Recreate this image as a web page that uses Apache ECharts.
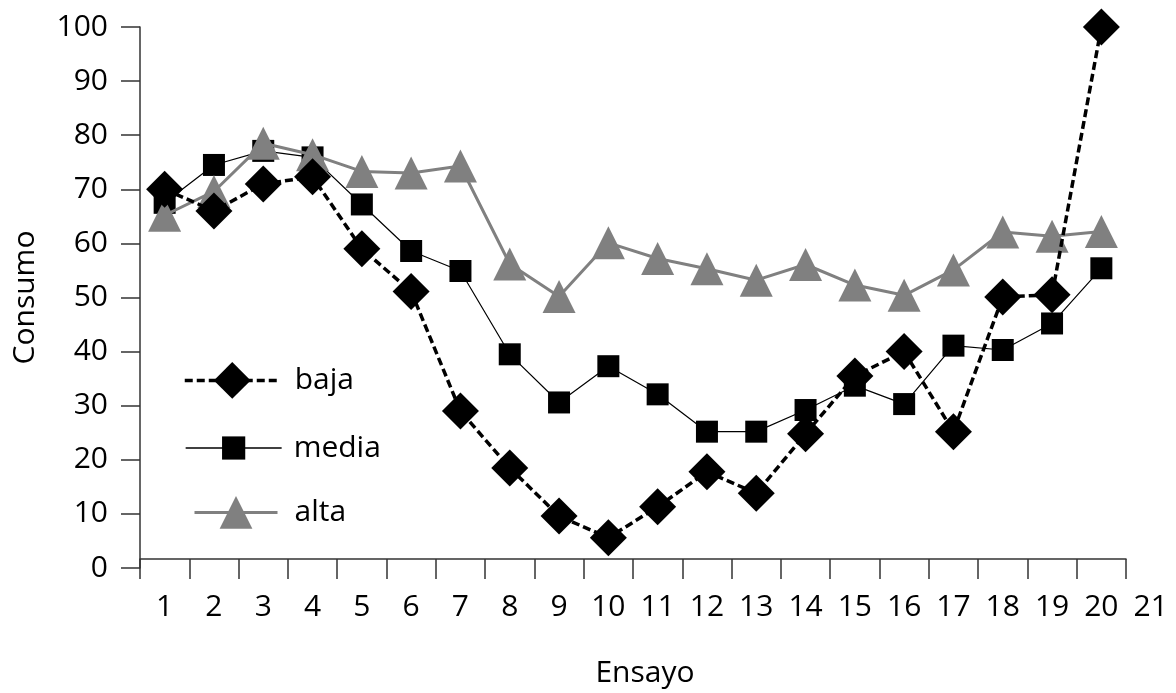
<!DOCTYPE html>
<html>
<head>
<meta charset="utf-8">
<script src="https://cdn.jsdelivr.net/npm/echarts@6/dist/echarts.min.js"></script>
<style>
html,body{margin:0;padding:0;background:#fff;}
#chart{width:1176px;height:693px;}
</style>
</head>
<body>
<div id="chart"></div>
<script>
// ---- data ----
const categories = ['1','2','3','4','5','6','7','8','9','10','11','12','13','14','15','16','17','18','19','20','21'];
const tickCategories = ['1','2','3','4','5','6','7','8','9','10','11','12','13','14','15','16','17','18','19','20'];
const baja  = [70, 66, 71, 72.3, 59, 51.1, 29, 18.5, 9.6, 5.6, 11.3, 17.8, 13.8, 24.8, 35.5, 40, 25.2, 50.1, 50.5, 100];
const media = [67.5, 74.5, 77.1, 75.9, 67.2, 58.6, 54.9, 39.5, 30.6, 37.3, 32.1, 25.2, 25.2, 29.2, 33.7, 30.3, 41.1, 40.3, 45.2, 55.4];
const alta  = [65.2, 69.6, 78.5, 76.4, 73.3, 73, 74.3, 56.2, 50.2, 60.1, 57.2, 55.3, 53.2, 56.1, 52.3, 50.4, 55.1, 62.1, 61.3, 62.2];
const yTicks = {min: 0, max: 100, interval: 10};

const FONT = 'Open Sans';
const FS = 30;
const AX = '#333333';

const chart = echarts.init(document.getElementById('chart'), null, {renderer: 'canvas'});
const option = {
  animation: false,
  backgroundColor: '#ffffff',
  textStyle: {fontFamily: FONT, color: '#000'},
  grid: [
    {left: 140, top: 27, bottom: 125, width: 49.3 * 21},
    {left: 140, top: 27, bottom: 125, width: 49.3 * 20}
  ],
  xAxis: [
    {
      gridIndex: 0, type: 'category', data: categories, boundaryGap: true,
      axisLine: {show: false}, axisTick: {show: false},
      axisLabel: {fontFamily: FONT, fontSize: FS, color: '#000', margin: 24, interval: 0}
    },
    {
      gridIndex: 1, type: 'category', data: tickCategories, boundaryGap: true,
      axisLine: {show: true, lineStyle: {color: AX, width: 1.5}},
      axisTick: {show: true, interval: 0, length: 20, lineStyle: {color: AX, width: 1.5}},
      axisLabel: {show: false},
      name: 'Ensayo', nameLocation: 'middle', nameGap: 99,
      nameTextStyle: {fontFamily: FONT, fontSize: FS, color: '#000', padding: [0, 0, 0, 24]}
    }
  ],
  yAxis: [
    {
      gridIndex: 0, type: 'value', min: yTicks.min, max: yTicks.max, interval: yTicks.interval,
      axisLine: {show: true, lineStyle: {color: AX, width: 1.5}},
      axisTick: {show: true, length: 19, lineStyle: {color: AX, width: 1.5}},
      splitLine: {show: false},
      axisLabel: {fontFamily: FONT, fontSize: FS, color: '#000', margin: 32},
      name: 'Consumo', nameLocation: 'middle', nameGap: 100,
      nameTextStyle: {fontFamily: FONT, fontSize: FS, color: '#000'}
    },
    {gridIndex: 1, type: 'value', min: 0, max: 100, show: false}
  ],
  legend: [
    {data: ['baja'], left: 183, top: 362, padding: 0, itemWidth: 95, itemHeight: 46, orient: 'vertical',
     lineStyle: {width: 3.5},
     textStyle: {fontFamily: FONT, fontSize: FS, color: '#000', padding: [0, 0, 0, 10]}},
    {data: ['media'], left: 185, top: 433, padding: 0, itemWidth: 96, itemHeight: 29, orient: 'vertical',
     lineStyle: {width: 1.3},
     textStyle: {fontFamily: FONT, fontSize: FS, color: '#000', padding: [0, 0, 0, 7]}},
    {data: ['alta'], left: 193, top: 496, padding: 0, itemWidth: 83, itemHeight: 41, orient: 'vertical',
     lineStyle: {width: 3},
     textStyle: {fontFamily: FONT, fontSize: FS, color: '#000', padding: [0, 0, 0, 12]}}
  ],
  series: [
    {
      name: 'media', type: 'line', xAxisIndex: 0, yAxisIndex: 0, data: media,
      symbol: 'rect', symbolSize: 22, showAllSymbol: true,
      lineStyle: {color: '#000', width: 1.2},
      itemStyle: {color: '#000'}, z: 2
    },
    {
      name: 'alta', type: 'line', xAxisIndex: 0, yAxisIndex: 0, data: alta,
      symbol: 'triangle', symbolSize: 33, showAllSymbol: true,
      lineStyle: {color: '#808080', width: 3},
      itemStyle: {color: '#808080'}, z: 3
    },
    {
      name: 'baja', type: 'line', xAxisIndex: 0, yAxisIndex: 0, data: baja,
      symbol: 'diamond', symbolSize: 37, showAllSymbol: true,
      lineStyle: {color: '#000', width: 3.5, type: [8, 4]},
      itemStyle: {color: '#000'}, z: 4
    }
  ]
};
chart.setOption(option);
</script>
</body>
</html>
